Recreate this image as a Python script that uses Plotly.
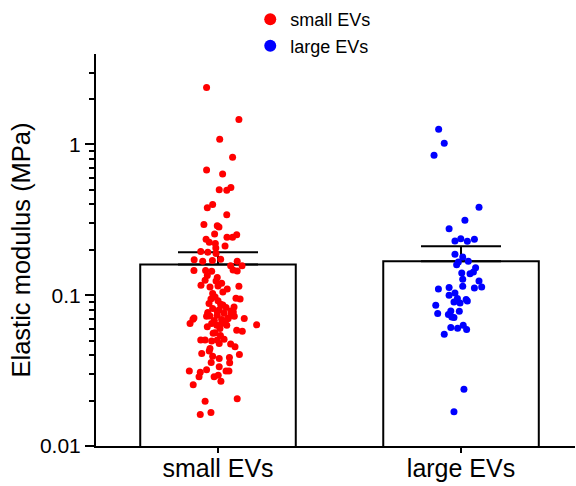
import plotly.graph_objects as go

categories = ["small EVs", "large EVs"]
bar_means = [0.160, 0.168]
bar_err_up = [0.033, 0.043]

# small EVs: values (MPa) and horizontal jitter (category units)
small_vals = [2.385, 1.464, 1.084, 0.824, 0.676, 0.636, 0.501, 0.496, 0.519, 0.399,
              0.381, 0.342, 0.294, 0.289, 0.283, 0.255, 0.252, 0.242, 0.242, 0.235,
              0.225, 0.220, 0.212, 0.206, 0.195, 0.193, 0.189, 0.173, 0.172, 0.168,
              0.170, 0.168, 0.157, 0.157, 0.146, 0.146, 0.144, 0.147, 0.145, 0.135,
              0.131, 0.1257, 0.1243, 0.1165, 0.1153, 0.1135, 0.110, 0.1147, 0.1026, 0.0975,
              0.0945, 0.0881, 0.0872, 0.0955, 0.0945, 0.0816, 0.0829, 0.0837, 0.0768, 0.0787,
              0.0737, 0.0707, 0.0726, 0.0726, 0.0701, 0.0650, 0.0694, 0.0750, 0.0729, 0.0780,
              0.0775, 0.0737, 0.0636, 0.0617, 0.0650, 0.0633, 0.0650, 0.0666, 0.0633, 0.0602,
              0.0690, 0.0701, 0.0586, 0.0577, 0.0563, 0.0504, 0.0504, 0.0498, 0.0504, 0.0511,
              0.0479, 0.0444, 0.0474, 0.0455, 0.0411, 0.0426, 0.0394, 0.0405, 0.0381, 0.0387,
              0.0358, 0.0356, 0.0314, 0.0308, 0.0320, 0.0288, 0.0335, 0.0314, 0.0314, 0.0295,
              0.0288, 0.0269, 0.0255, 0.0198, 0.0206, 0.0162, 0.0167,
              0.0860, 0.0800, 0.0760, 0.0700, 0.0680, 0.0920, 0.1050, 0.1200, 0.0540, 0.0560]
small_jit = [-0.047, 0.086, 0.007, 0.060, -0.047, 0.019, 0.005, 0.036, 0.053, -0.022,
             -0.044, 0.036, -0.058, -0.003, 0.004, -0.014, 0.077, 0.037, 0.060, -0.049,
             -0.036, -0.011, 0.029, -0.009, -0.071, -0.042, -0.008, 0.011, -0.098, -0.063,
             -0.023, 0.079, 0.052, 0.099, -0.099, -0.051, -0.026, 0.062, 0.079, -0.044,
             -0.003, -0.053, -0.008, -0.070, 0.000, -0.033, 0.038, 0.086, -0.022, -0.012,
             -0.029, -0.037, 0.011, 0.074, 0.091, -0.022, 0.033, 0.066, -0.042, 0.053,
             -0.003, -0.099, -0.047, 0.067, 0.108, -0.115, -0.103, -0.042, -0.033, -0.003,
             0.063, 0.053, 0.159, -0.044, -0.026, -0.005, 0.015, 0.029, 0.036, 0.008,
             0.015, 0.042, 0.077, 0.100, -0.012, -0.071, -0.053, -0.026, -0.003, 0.025,
             0.005, -0.033, 0.052, 0.070, -0.067, -0.036, -0.022, 0.088, 0.005, 0.047,
             -0.028, 0.048, -0.118, -0.073, -0.047, -0.078, 0.005, 0.033, 0.045, 0.001,
             -0.016, 0.012, -0.102, -0.053, 0.079, -0.073, -0.029,
             0.020, 0.005, 0.025, 0.040, -0.015, 0.000, 0.020, 0.015, 0.010, -0.020]

large_vals = [1.263, 1.020, 0.849, 0.383, 0.314, 0.276, 0.229, 0.237, 0.228, 0.235,
              0.187, 0.179, 0.168, 0.166, 0.159, 0.152, 0.1405, 0.139, 0.1426, 0.1276,
              0.1243, 0.1147, 0.1117, 0.1135, 0.110, 0.1125, 0.1036, 0.100, 0.0951, 0.0937,
              0.0917, 0.0903, 0.0859, 0.0889, 0.0783, 0.0787, 0.0756, 0.0745, 0.0712, 0.0718,
              0.0611, 0.0605, 0.0633, 0.0593, 0.0552, 0.0238, 0.0169]
large_jit = [-0.092, -0.069, -0.111, 0.074, 0.016, -0.049, -0.025, -0.001, 0.026, 0.055,
             -0.025, 0.007, 0.030, -0.011, -0.018, 0.060, 0.003, 0.037, 0.051, 0.007,
             0.074, 0.007, 0.055, 0.085, -0.093, -0.049, -0.025, -0.049, -0.015, 0.021,
             0.026, -0.029, -0.104, -0.004, -0.007, -0.042, -0.096, -0.052, -0.029, -0.038,
             -0.042, -0.014, 0.009, 0.023, -0.069, 0.012, -0.029]

y_tickvals = [0.01, 0.1, 1]
y_ticktext = ["0.01", "0.1", "1"]
y_minor = [0.02, 0.03, 0.04, 0.05, 0.06, 0.07, 0.08, 0.09,
           0.2, 0.3, 0.4, 0.5, 0.6, 0.7, 0.8, 0.9, 2, 3]

FONT = "Arial, Liberation Sans, sans-serif"
cat_x = list(range(len(categories)))

fig = go.Figure()

# white bar fill (below points)
fig.add_trace(go.Bar(x=cat_x, y=bar_means, width=0.64,
                     marker=dict(color="white", line=dict(width=0)),
                     showlegend=False, hoverinfo="skip"))

fig.add_trace(go.Scatter(x=[cat_x[0] + j for j in small_jit], y=small_vals,
                         mode="markers", name="small EVs",
                         marker=dict(color="#ff0000", size=7)))
fig.add_trace(go.Scatter(x=[cat_x[1] + j for j in large_jit], y=large_vals,
                         mode="markers", name="large EVs",
                         marker=dict(color="#0000ff", size=7)))

# bar outline + error bars (above points)
fig.add_trace(go.Bar(x=cat_x, y=bar_means, width=0.64,
                     marker=dict(color="rgba(0,0,0,0)", line=dict(color="black", width=2)),
                     error_y=dict(type="data", symmetric=False, array=bar_err_up,
                                  arrayminus=[0, 0], color="black", thickness=2, width=40),
                     showlegend=False, hoverinfo="skip"))

fig.update_layout(
    width=576, height=486,
    margin=dict(l=96, r=1, t=54, b=40),
    paper_bgcolor="white", plot_bgcolor="white",
    barmode="overlay",
    font=dict(family=FONT, color="black"),
    legend=dict(x=0.322, y=1.135, xanchor="left", yanchor="top",
                font=dict(size=18, family=FONT), bgcolor="rgba(0,0,0,0)",
                itemsizing="constant"),
    xaxis=dict(range=[-0.502, 1.469], tickvals=cat_x, ticktext=categories,
               showline=True, linecolor="black", linewidth=2, automargin=False,
               ticks="outside", ticklen=5, tickwidth=2, tickcolor="black",
               ticklabelstandoff=-6,
               tickfont=dict(size=25, family=FONT), showgrid=False, zeroline=False),
    yaxis=dict(type="log", range=[-2, 0.6], tickvals=y_tickvals, ticktext=y_ticktext,
               showline=True, linecolor="black", linewidth=2, automargin=False,
               ticks="outside", ticklen=9, tickwidth=2, tickcolor="black",
               tickfont=dict(size=21, family=FONT), showgrid=False, zeroline=False,
               minor=dict(tickvals=y_minor, ticks="outside", ticklen=5, tickwidth=1.5,
                          tickcolor="black", showgrid=False),
               title=dict(text="Elastic modulus (MPa)", font=dict(size=25.5, family=FONT),
                          standoff=2)),
)

fig.write_html("out.html")
